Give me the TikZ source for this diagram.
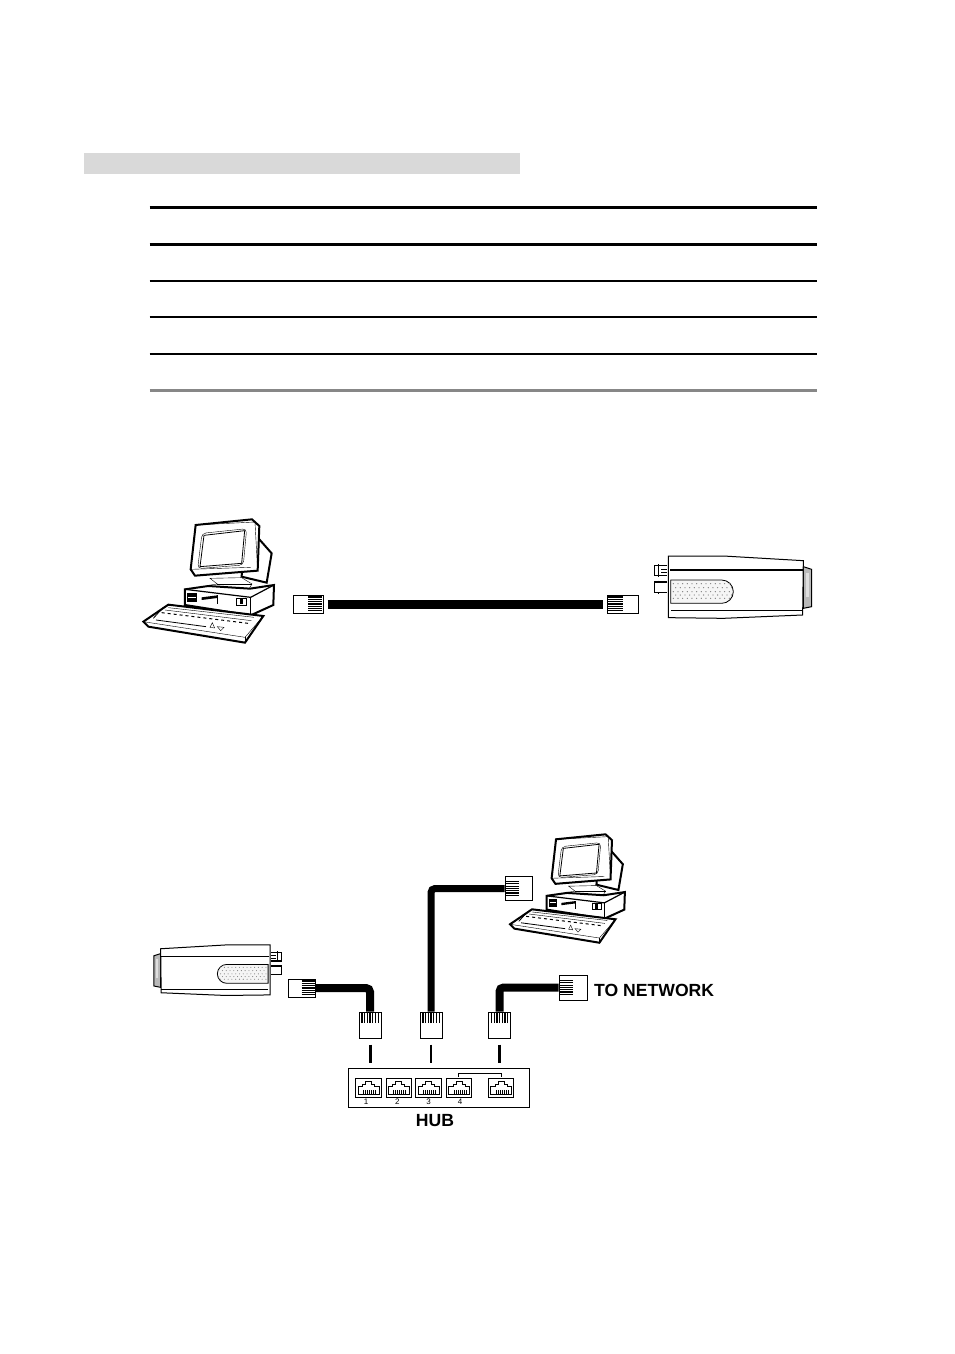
\documentclass[tikz,border=0pt]{standalone}
\usepackage{fontspec}
\setmainfont{Liberation Sans}
\definecolor{bargray}{gray}{.85}
\definecolor{rulegray}{gray}{.53}
\tikzset{
  rulethick/.style={line width=3pt},
  rulethin/.style={line width=2pt},
  cable/.style={line width=8pt,rounded corners=4pt},
  stem/.style={line width=2.5pt,shorten >=5pt,shorten <=6pt},
  plugbox/.style={draw,fill=white,line width=1pt,inner sep=0pt,rectangle},
  plugleft/.style={plugbox,minimum width=#1,minimum height=18pt,path picture={
    \foreach \y in {-7,-4.7,...,7.5}
      \draw[line width=1.2pt,shift={(path picture bounding box.west)}] (0,\y)--(14,\y);}},
  plugright/.style={plugbox,minimum width=#1,minimum height=22pt,path picture={
    \foreach \y in {-7,-4.7,...,7.5}
      \draw[line width=1.2pt,shift={(path picture bounding box.east)}] (0,\y)--(-15,\y);}},
  plugdown/.style={plugbox,minimum width=22pt,minimum height=26pt,path picture={
    \foreach \x in {-8,-5.3,...,8.5}
      \draw[line width=1.3pt,shift={(path picture bounding box.south)}] (\x,-2)--(\x,-15);}},
  hubbox/.style={draw,line width=1pt,minimum width=181pt,minimum height=39pt,inner sep=0pt},
  hubport/.style={draw,line width=1pt,minimum width=25.5pt,minimum height=19pt,inner sep=0pt,path picture={
    \draw[line width=.8pt,shift={(path picture bounding box.center)}]
      (-10.5,7)--(-10.5,-1)--(-6,-1)--(-6,-3.5)--(-3,-3.5)--(-3,-6)--(3,-6)--(3,-3.5)--(6,-3.5)--(6,-1)--(10.5,-1)--(10.5,7)--cycle;
    \foreach \x in {-5,-3,...,7}
      \draw[line width=.9pt,shift={(path picture bounding box.center)}] (\x,2)--(\x,7);}},
  portlabel/.style={font=\fontsize{8}{8}\selectfont,inner sep=0pt},
  biglabel/.style={font=\fontsize{17.6}{18}\selectfont\bfseries,inner sep=0pt},
  pics/computer/.style={code={
    \tikzset{line width=1.5pt,line join=round}
    % monitor
    \draw[fill=white,line width=2pt] (388,88)--(425,130)--(410,218)--(335,200)--(340,100)--cycle;
    \draw[fill=white,line width=2pt] (197,45)--(366,28)--(388,48)--(383,182)--(195,197)--(182,178)--cycle;
    \draw (197,45)--(375,36)--(383,182);
    \draw (182,178)--(362,172);
    \draw[rounded corners=4pt,fill=white] (216,70)--(350,56)--(340,165)--(203,176)--cycle;
    \draw[line width=.8pt] (222,76)--(344,62)--(335,160)--(210,170)--cycle;
    % stand
    \draw[fill=white] (240,205)--(262,222)--(235,226)--(235,237)--(358,235)--(366,222)--(335,203)--cycle;
    \draw[line width=.8pt] (262,222)--(366,222);
    % case
    \draw[fill=white,line width=2pt] (165,238)--(235,228)--(360,236)--(432,225)--(430,285)--(362,316)--(165,285)--cycle;
    \draw[line width=1.2pt] (165,238)--(362,262)--(432,225);
    \draw (362,262)--(362,316);
    \fill (172,250) rectangle (200,276);
    \draw[white,line width=1pt] (175,262)--(198,262);
    \fill (215,262)--(262,256)--(262,264)--(215,270)--cycle;
    \draw (262,256)--(262,282);
    \draw (320,264) rectangle (350,285);
    \draw[line width=2.5pt] (335,266)--(335,283);
    % keyboard
    \draw[fill=white,line width=2pt] (40,335)--(115,284)--(400,318)--(345,398)--(55,350)--cycle;
    \draw (40,335)--(345,382)--(400,318);
    \draw (345,382)--(345,398);
    \draw (115,293)--(372,322);
    \draw (105,300)--(364,332);
    \draw[dashed,line width=1pt] (95,308)--(354,340);
    \draw[line width=.8pt] (100,292)--(70,325);
    \draw[line width=.8pt] (78,330)--(228,350);
    \draw (240,352)--(247,338)--(254,354)--cycle;
    \draw (262,350)--(282,352)--(272,362)--cycle;
  }},
  pics/camera/.style={code={
    % lens
    \draw[fill=gray!55,line width=1pt] (640,80)--(665,88)--(665,200)--(640,205)--cycle;
    \fill[gray!25] (648,100) rectangle (658,170);
    % connectors
    \draw[line width=1.2pt] (232,76)--(193,76)--(193,107)--(232,107);
    \draw[line width=1.2pt] (206,72)--(206,110);
    \draw[line width=1.2pt] (214,88)--(232,88) (214,98)--(232,98);
    \draw[line width=1.2pt] (232,126)--(193,126)--(193,157)--(232,157);
    \draw[line width=1.2pt] (206,122)--(206,126) (206,157)--(206,161);
    % body
    \draw[fill=white,line width=1pt] (235,48)--(400,48)--(640,62)--(638,225)--(400,235)--(235,233)--cycle;
    \draw[line width=1.3pt] (240,90)--(638,90);
    \draw[line width=1.3pt] (243,212)--(638,212);
    % grille
    \draw[fill=gray!8,line width=.8pt] (242,120)--(395,120) arc (-90:90:35)--(242,190)--cycle;
    \foreach \y in {131,155,175}
      \foreach \x in {250,264,...,420}
        \fill[gray] (\x,\y) circle (2);
    \foreach \y in {143,165}
      \foreach \x in {257,271,...,427}
        \fill[gray] (\x,\y) circle (2);
  }}
}
\begin{document}
\begin{tikzpicture}[x=1pt,y=-1pt]
    \useasboundingbox (0,0) rectangle (954,1354);
    % bar and rules
    \fill[bargray] (84,153) rectangle (520,174);
    \draw[rulethick] (149.5,207.5)--(817,207.5);
    \draw[rulethick] (149.5,244)--(817,244);
    \draw[rulethin] (149.5,281)--(817,281);
    \draw[rulethin] (149.5,317)--(817,317);
    \draw[rulethin] (149.5,354)--(817,354);
    \draw[rulethick,rulegray] (149.5,390.5)--(817,390.5);
    % direct link
    \pic[scale=.3333] at (130,510) {computer};
    \pic[scale=.3333] at (590,540) {camera};
    \node[plugleft=30pt] (pcplug) at (308,604) {};
    \node[plugright=31pt,minimum height=18pt] (camplug) at (622.5,604) {};
    \draw[line width=9pt,shorten <=4pt,shorten >=4pt] (pcplug)--(camplug);
    % hub link
    \pic[scale=.293] at (498.3,826.1) {computer};
    \pic[xscale=-.27,yscale=.27] at (333.45,932) {camera};
    \node[hubbox] (hub) at (438.5,1087.5) {};
    \foreach \name/\xpos in {portone/368.5,porttwo/398.8,portthree/428.7,portfour/459,portup/501}
      \node[hubport] (\name) at (\xpos,1087.8) {};
    \foreach \xpos/\num in {366/1,397.3/2,428.7/3,460/4}
      \node[portlabel] at (\xpos,1101.5) {\num};
    \draw[line width=.8pt] (458.5,1077)--(458.5,1073.5)--(501.5,1073.5)--(501.5,1077);
    \node[biglabel] (hublabel) at (435,1121) {HUB};
    \node[plugdown] (plugone) at (370,1025) {};
    \node[plugdown] (plugtwo) at (431,1025) {};
    \node[plugdown] (plugthree) at (499.5,1025) {};
    \node[plugleft=27pt] (camjack) at (301.5,988) {};
    \node[plugright=27pt,minimum height=24pt] (pcjack) at (518.5,888.5) {};
    \node[plugright=28pt,minimum height=25pt] (netjack) at (573,987.5) {};
    \node[biglabel,anchor=west] (netlabel) at (594,990) {TO NETWORK};
    \draw[cable] (camjack)-|(plugone);
    \draw[cable,line width=7pt] (pcjack)-|(plugtwo);
    \draw[cable] (netjack)-|(plugthree);
    \draw[stem,line width=3pt] (plugone.south)--(plugone.south|-hub.north);
    \draw[stem,line width=2pt] (plugtwo.south)--(plugtwo.south|-hub.north);
    \draw[stem,line width=3pt] (plugthree.south)--(plugthree.south|-hub.north);
\end{tikzpicture}
\end{document}
